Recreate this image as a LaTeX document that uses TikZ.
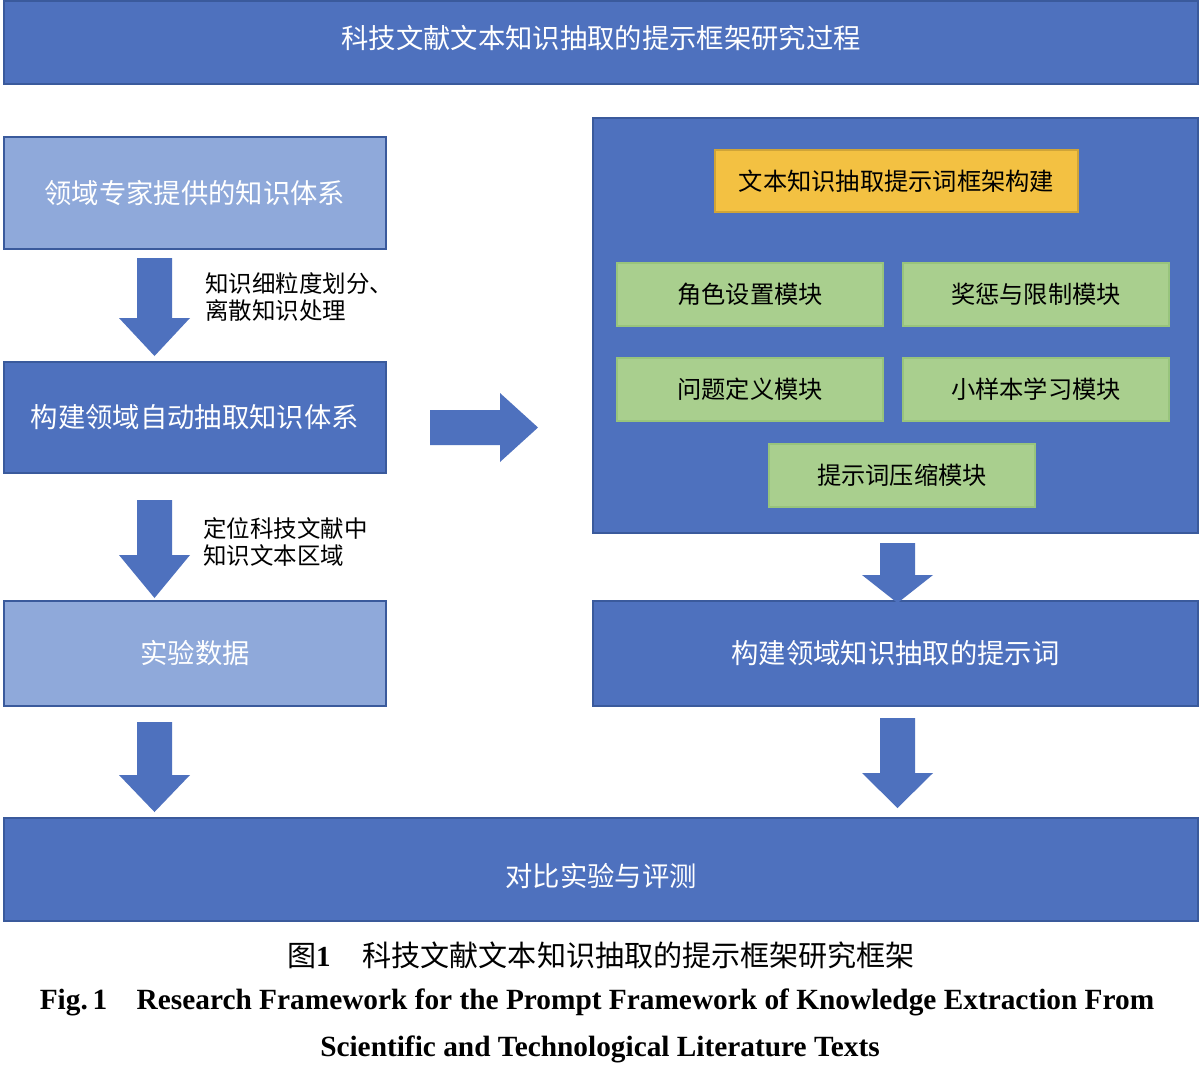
\documentclass[tikz,border=0pt]{standalone}
\usepackage{fontspec}
\setmainfont{Liberation Serif}
\newfontfamily\cjk{Noto Sans CJK SC}
\usetikzlibrary{fit}
\definecolor{dblue}{HTML}{4E71BE}
\definecolor{lblue}{HTML}{8FA9DA}
\definecolor{bord}{HTML}{3A5A9C}
\definecolor{ygold}{HTML}{F3C142}
\definecolor{gfill}{HTML}{A9CF8E}
\definecolor{gbord}{HTML}{98C47C}
\newcommand\dnarrow[4]{\fill[dblue] (#1-17.5,#2) -- (#1+17.5,#2) -- (#1+17.5,#3) -- (#1+35.5,#3) -- (#1,#4) -- (#1-35.5,#3) -- (#1-17.5,#3) -- cycle;}
\begin{document}
\begin{tikzpicture}[x=0.75pt,y=-0.75pt,
  base/.style={inner sep=0pt, line width=0.9pt},
  dbox/.style={base, fill=dblue, draw=bord},
  lbox/.style={base, fill=lblue, draw=bord},
  ybox/.style={base, fill=ygold, draw=ygold!85!black},
  gbox/.style={base, fill=gfill, draw=gbord},
  wtxt/.style={inner sep=0pt, text=white, font=\cjk\fontsize{20.5}{24}\selectfont},
  btxt/.style={inner sep=0pt, text=black, font=\cjk\fontsize{18.2}{22}\selectfont},
  lab/.style={anchor=north west, align=left, inner sep=0pt, font=\cjk\fontsize{17.6}{20.5}\selectfont}]
\useasboundingbox (0,0) rectangle (1200,1086);
\fill[white] (0,0) rectangle (1200,1086);

\node[dbox, fit={(4,1)(1198,84)}] (top) {};
\node[wtxt] at ([yshift=3pt]top.center) {科技文献文本知识抽取的提示框架研究过程};

\node[lbox, fit={(4,137)(386,249)}] (b1) {};
\node[wtxt] at (b1.center) {领域专家提供的知识体系};
\node[dbox, fit={(4,362)(386,473)}] (b2) {};
\node[wtxt] at (b2.center) {构建领域自动抽取知识体系};
\node[lbox, fit={(4,601)(386,706)}] (b3) {};
\node[wtxt] at (b3.center) {实验数据};

\node[dbox, fit={(593,118)(1198,533)}] (big) {};
\node[ybox, fit={(715,150)(1078,212)}] (y1) {};
\node[btxt] at (y1.center) {文本知识抽取提示词框架构建};
\node[gbox, fit={(617,263)(883,326)}] (g1) {};
\node[btxt] at (g1.center) {角色设置模块};
\node[gbox, fit={(903,263)(1169,326)}] (g2) {};
\node[btxt] at (g2.center) {奖惩与限制模块};
\node[gbox, fit={(617,358)(883,421)}] (g3) {};
\node[btxt] at (g3.center) {问题定义模块};
\node[gbox, fit={(903,358)(1169,421)}] (g4) {};
\node[btxt] at (g4.center) {小样本学习模块};
\node[gbox, fit={(769,444)(1035,507)}] (g5) {};
\node[btxt] at (g5.center) {提示词压缩模块};

\node[dbox, fit={(593,601)(1198,706)}] (r2) {};
\node[wtxt] at (r2.center) {构建领域知识抽取的提示词};
\node[dbox, fit={(4,818)(1198,921)}] (bot) {};
\node[wtxt] at ([yshift=-5pt]bot.center) {对比实验与评测};

\dnarrow{154.5}{258}{318}{356}
\dnarrow{154.5}{500}{555}{598}
\dnarrow{154.5}{722}{775}{812}
\dnarrow{897.5}{543}{575}{603}
\dnarrow{897.5}{718}{773}{808}
\fill[dblue] (430,410) -- (500,410) -- (500,393) -- (538,427.5) -- (500,462) -- (500,445) -- (430,445) -- cycle;

\node[lab] (l1) at (205,272) {知识细粒度划分、\\离散知识处理};
\node[lab] (l2) at (203,517) {定位科技文献中\\知识文本区域};

\node[font=\cjk\fontsize{21.8}{24}\selectfont] (cap1) at (601,955) {图{\rmfamily\bfseries 1}\hspace{1.1em}科技文献文本知识抽取的提示框架研究框架};
\node[font=\rmfamily\bfseries\fontsize{22}{24}\selectfont] (cap2) at (597,1002) {Fig.\,1\quad Research Framework for the Prompt Framework of Knowledge Extraction From};
\node[font=\rmfamily\bfseries\fontsize{22}{24}\selectfont] (cap3) at (600,1049) {Scientific and Technological Literature Texts};
\end{tikzpicture}
\end{document}
